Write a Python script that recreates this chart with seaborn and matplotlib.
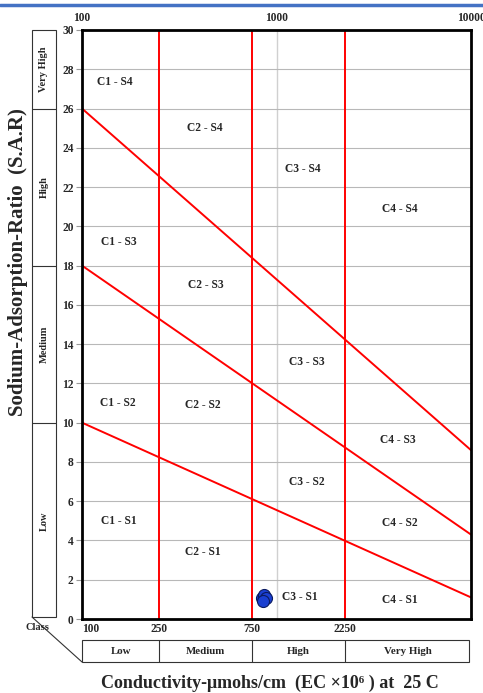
import numpy as np
import pandas as pd
import matplotlib.pyplot as plt
import seaborn as sns
from matplotlib.patches import Rectangle
from matplotlib.lines import Line2D
from matplotlib.transforms import blended_transform_factory

# salinity class boundaries (EC) and sodium hazard lines (SAR at EC=100 and EC=10000)
ec_bounds = [250, 750, 2250]
sar_at_100 = [10, 18, 26]
sar_at_10000 = [1.1, 4.3, 8.6]

# water samples
ec_samples = [845, 865, 878, 855]
sar_samples = [1.05, 1.2, 1.08, 0.9]

zone_labels = ['C1 - S4', 'C2 - S4', 'C3 - S4', 'C4 - S4',
               'C1 - S3', 'C2 - S3', 'C3 - S3', 'C4 - S3',
               'C1 - S2', 'C2 - S2', 'C3 - S2', 'C4 - S2',
               'C1 - S1', 'C2 - S1', 'C3 - S1', 'C4 - S1']
zone_ec = [148, 429, 1368, 4315,
           155, 434, 1435, 4215,
           153, 419, 1435, 4315,
           155, 419, 1320, 4315]
zone_sar = [27.35, 25.0, 22.9, 20.9,
            19.2, 17.0, 13.1, 9.1,
            11.0, 10.9, 7.0, 4.9,
            5.0, 3.4, 1.1, 0.95]

sar_classes = ['Low', 'Medium', 'High', 'Very High']
sar_class_edges = [0, 10, 18, 26, 30]
ec_classes = ['Low', 'Medium', 'High', 'Very High']
ec_class_edges = [100, 250, 750, 2250, 10000]

sns.set_style('white')
plt.rcParams['font.family'] = ['Liberation Serif', 'DejaVu Serif']
plt.rcParams['font.weight'] = 'bold'

W, H = 483, 693
fig = plt.figure(figsize=(W / 100, H / 100), dpi=100)
ax = fig.add_axes([82 / W, 1 - 619 / H, (471 - 82) / W, (619 - 30) / H])
ax.set_xscale('log')
ax.set_xlim(100, 10000)
ax.set_ylim(0, 30)

# grid
ax.set_yticks(np.arange(0, 31, 2))
ax.yaxis.grid(True, color='#b8b8b8', lw=0.8)
ax.axvline(1000, color='#d0d0d0', lw=1, zorder=0)

# hazard lines
lines = pd.DataFrame({
    'ec': [100, 10000] * 3,
    'sar': [v for pair in zip(sar_at_100, sar_at_10000) for v in pair],
    'line': np.repeat(['a', 'b', 'c'], 2),
})
sns.lineplot(data=lines, x='ec', y='sar', units='line', estimator=None,
             color='red', lw=1.4, ax=ax)
for b in ec_bounds:
    ax.axvline(b, color='red', lw=1.4)

sns.scatterplot(x=ec_samples, y=sar_samples, s=75, color='#1a3fd0',
                edgecolor='#0a1a60', linewidth=0.8, ax=ax, zorder=5)

for lab, x, y in zip(zone_labels, zone_ec, zone_sar):
    ax.text(x, y, lab, ha='center', va='center', fontsize=8.3, fontweight='bold')

ax.set_xlabel('')
ax.set_ylabel('')
for s in ax.spines.values():
    s.set_linewidth(2)
    s.set_color('black')

ax.set_xticks(ec_class_edges[:-1])
ax.set_xticklabels(['100', '250', '750', '2250'])
ax.xaxis.set_minor_locator(plt.NullLocator())
ax.tick_params(axis='x', length=0, pad=3, labelsize=8.3)
ax.tick_params(axis='y', length=4, color='#999999', pad=2, labelsize=8.3, left=True)
ax.get_xticklabels()[0].set_ha('left')

top = ax.secondary_xaxis('top')
top.set_xticks([100, 1000, 10000])
top.set_xticklabels(['100', '1000', '10000'])
top.xaxis.set_minor_locator(plt.NullLocator())
top.tick_params(length=0, pad=4, labelsize=8.3)
top.spines['top'].set_visible(False)

# left sodium class column
fx = lambda px: px / W
fy = lambda py: 1 - py / H
bt = blended_transform_factory(fig.transFigure, ax.transData)
fig.add_artist(Rectangle((fx(32), fy(617)), fx(56) - fx(32), fy(30) - fy(617),
                         transform=fig.transFigure, fill=False, lw=0.8, ec='#333333'))
for e in sar_class_edges[1:-1]:
    fig.add_artist(Line2D([fx(32), fx(56)], [e, e], transform=bt, lw=0.8, color='#333333'))
for i, lab in enumerate(sar_classes):
    lo, hi = sar_class_edges[i], sar_class_edges[i + 1]
    fig.text(fx(44), (lo + hi) / 2, lab, transform=bt, rotation=90,
             ha='center', va='center', fontsize=7.5, fontweight='bold')

# bottom conductivity class row
bx = blended_transform_factory(ax.transData, fig.transFigure)
fig.add_artist(Rectangle((fx(82), fy(662)), fx(469) - fx(82), fy(640) - fy(662),
                         transform=fig.transFigure, fill=False, lw=0.8, ec='#333333'))
for e in ec_bounds:
    fig.add_artist(Line2D([e, e], [fy(662), fy(640)], transform=bx, lw=0.8, color='#333333'))
for i, lab in enumerate(ec_classes):
    c = np.sqrt(ec_class_edges[i] * ec_class_edges[i + 1])
    fig.text(c, fy(652), lab, transform=bx, ha='center', va='center',
             fontsize=7.8, fontweight='bold')

fig.add_artist(Line2D([fx(32), fx(82)], [fy(617), fy(662)], lw=0.8, color='#333333'))
fig.text(fx(37), fy(628), 'Class', ha='center', va='center', fontsize=7.5, fontweight='bold')

fig.text(fx(18), fy(262), 'Sodium-Adsorption-Ratio  (S.A.R)', rotation=90,
         ha='center', va='center', fontsize=15, fontweight='bold')
fig.text(fx(270), fy(683), 'Conductivity-\u03bcmohs/cm  (EC \u00d710\u2076 ) at  25 C',
         ha='center', va='center', fontsize=13, fontweight='bold')

fig.add_artist(Line2D([0, 1], [fy(5), fy(5)], lw=2.5, color='#4472c4'))

fig.savefig('out.png', dpi=100)
